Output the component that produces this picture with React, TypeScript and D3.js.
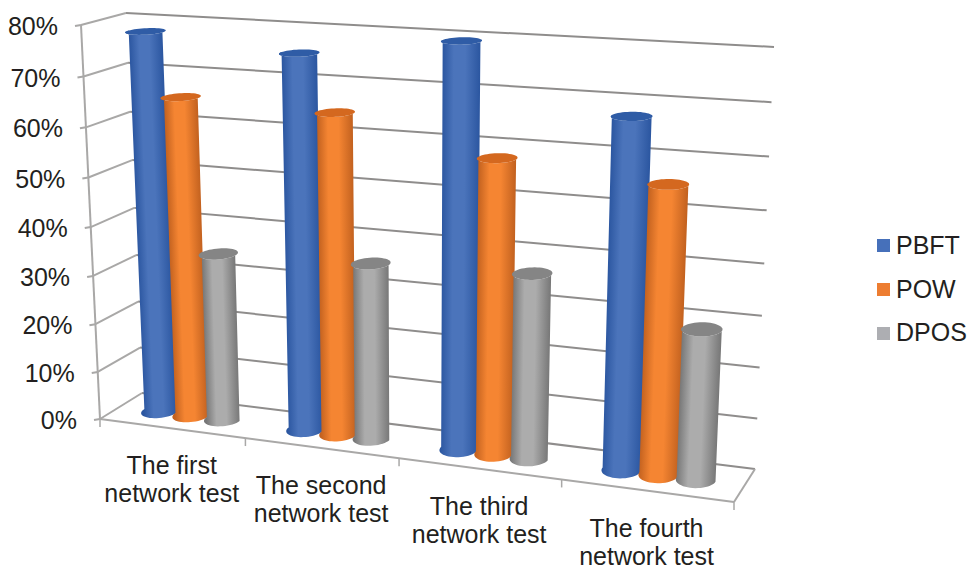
import React from "react";
import * as d3 from "d3";

// Chart values
const categories = [
  ["The first", "network test"],
  ["The second", "network test"],
  ["The third", "network test"],
  ["The fourth", "network test"],
];
const seriesNames = ["PBFT", "POW", "DPOS"];
const pbft = [78, 75.5, 79.5, 67.5];
const pow = [65.5, 64.5, 58, 55.5];
const dpos = [34.5, 35.5, 36.5, 29];
const valueTicks = [0, 10, 20, 30, 40, 50, 60, 70, 80];

const allSeries = [pbft, pow, dpos];

// Base fill, edge shade, centre highlight, cap fill for each series
const swatchColors = ["#4670ba", "#ed7d31", "#adaeb2"];
const edgeColors = ["#2b56a0", "#c2611f", "#777777"];
const midColors = ["#4b74bb", "#f58532", "#acacac"];
const capColors = ["#2f5ca6", "#d4681f", "#858585"];

const WIDTH = 969;
const HEIGHT = 570;
const INK = "#231f20";
const FONT = "'Liberation Sans', Arial, sans-serif";

// Corners of the 3D plot box on screen: [front|back][left|right][bottom|top]
const corners = {
  flb: [100, 419],
  flt: [81, 25],
  blb: [142, 393],
  blt: [126, 13],
  frb: [734, 502],
  frt: [754, 62],
  brb: [755, 469],
  brt: [774, 47],
};

const xUnit = d3.scaleLinear().domain([0, categories.length]).range([0, 1]);
const vUnit = d3.scaleLinear().domain([0, 80]).range([1, 0]);

// One-dimensional perspective foreshortening
const foreshorten = (u: number, k: number) => u / (u + k * (1 - u));

// Projects category position, value and depth (0 front, 1 back) to the screen
function project(cat: number, value: number, depth: number): [number, number] {
  const s = foreshorten(xUnit(cat), 1.12);
  const u = foreshorten(vUnit(value), 0.95);
  const mix = (a: number, b: number, t: number) => d3.interpolateNumber(a, b)(t);
  const out = [0, 1].map((i) => {
    const frontTop = mix(corners.flt[i], corners.frt[i], s);
    const frontBot = mix(corners.flb[i], corners.frb[i], s);
    const backTop = mix(corners.blt[i], corners.brt[i], s);
    const backBot = mix(corners.blb[i], corners.brb[i], s);
    return mix(mix(frontTop, frontBot, u), mix(backTop, backBot, u), depth);
  });
  return [out[0], out[1]];
}

const BAR_DEPTH = 0.5;
const BAR_PITCH = 0.22;
const RADIUS_X = 0.113;
const RADIUS_Z = 0.26;

const lineGen = d3.line<[number, number]>();

function cylinder(catIndex: number, seriesIndex: number, value: number) {
  const cx = catIndex + 0.5 + (seriesIndex - 1) * BAR_PITCH;
  const ring = (v: number, from: number, to: number) =>
    d3.range(0, 25).map((n) => {
      const a = from + ((to - from) * n) / 24;
      return project(cx + RADIUS_X * Math.cos(a), v, BAR_DEPTH - RADIUS_Z * Math.sin(a));
    });
  const body = [...ring(value, Math.PI, 0), ...ring(0, 0, Math.PI)];
  const cap = [...ring(value, 0, Math.PI), ...ring(value, Math.PI, 2 * Math.PI)];

  // Shading runs across the cylinder, perpendicular to its leaning axis
  const top = project(cx, value, BAR_DEPTH);
  const bottom = project(cx, 0, BAR_DEPTH);
  const axis = [bottom[0] - top[0], bottom[1] - top[1]];
  const len = Math.hypot(axis[0], axis[1]);
  const normal = [axis[1] / len, -axis[0] / len];
  const half = (project(cx + RADIUS_X, value, BAR_DEPTH)[0] - project(cx - RADIUS_X, value, BAR_DEPTH)[0]) / 2;
  const mid = [(top[0] + bottom[0]) / 2, (top[1] + bottom[1]) / 2];
  return {
    bodyPath: (lineGen(body) ?? "") + "Z",
    capPath: (lineGen(cap) ?? "") + "Z",
    grad: {
      x1: mid[0] - normal[0] * half,
      y1: mid[1] - normal[1] * half,
      x2: mid[0] + normal[0] * half,
      y2: mid[1] + normal[1] * half,
    },
  };
}

const GRID = "#8f8d8c";
const AXIS = "#a9a8a7";

export default function App() {
  const nCat = categories.length;
  const outline: [number, number][][] = [
    [project(0, 0, 0), project(0, 80, 0)],
    [project(0, 0, 0), project(nCat, 0, 0)],
    [project(nCat, 0, 0), project(nCat, 0, 1)],
  ];
  return (
    <svg
      width={WIDTH}
      height={HEIGHT}
      viewBox={`0 0 ${WIDTH} ${HEIGHT}`}
      style={{ position: "absolute", left: 0, top: 0, display: "block", background: "#fff" }}
    >
      {/* Back wall, side wall and value labels */}
      {valueTicks.map((v) => {
        const fl = project(0, v, 0);
        const bl = project(0, v, 1);
        const br = project(nCat, v, 1);
        return (
          <g key={v}>
            <line x1={bl[0]} y1={bl[1]} x2={br[0]} y2={br[1]} stroke={GRID} strokeWidth={2} />
            <line x1={fl[0]} y1={fl[1]} x2={bl[0]} y2={bl[1]} stroke={AXIS} strokeWidth={2} />
            <line x1={fl[0] - 6} y1={fl[1] + 1} x2={fl[0]} y2={fl[1]} stroke={AXIS} strokeWidth={2} />
            <text x={fl[0] - 23} y={fl[1] + 10} textAnchor="end" fontFamily={FONT} fontSize={25} fill={INK}>
              {v}%
            </text>
          </g>
        );
      })}
      {/* Vertical axis and floor outline */}
      {outline.map((seg, i) => (
        <line key={i} x1={seg[0][0]} y1={seg[0][1]} x2={seg[1][0]} y2={seg[1][1]} stroke={AXIS} strokeWidth={2} />
      ))}
      {/* Category ticks and labels */}
      {d3.range(0, nCat + 1).map((i) => {
        const p = project(i, 0, 0);
        return <line key={i} x1={p[0]} y1={p[1]} x2={p[0]} y2={p[1] + 8} stroke={AXIS} strokeWidth={1.5} />;
      })}
      {categories.map((lines, i) => {
        const p = project(i + 0.5, 0, 0);
        return (
          <text key={i} textAnchor="middle" fontFamily={FONT} fontSize={25} fill={INK}>
            {lines.map((line, l) => (
              <tspan key={l} x={p[0]} y={p[1] + 46 + l * 28}>
                {line}
              </tspan>
            ))}
          </text>
        );
      })}
      {/* Cylinders */}
      {categories.map((_, c) =>
        allSeries.map((values, s) => {
          const shape = cylinder(c, s, values[c]);
          const id = `cyl-${c}-${s}`;
          return (
            <g key={id}>
              <defs>
                <linearGradient id={id} gradientUnits="userSpaceOnUse" {...shape.grad}>
                  <stop offset="0" stopColor={edgeColors[s]} />
                  <stop offset="0.3" stopColor={midColors[s]} />
                  <stop offset="0.6" stopColor={midColors[s]} />
                  <stop offset="1" stopColor={edgeColors[s]} />
                </linearGradient>
              </defs>
              <path d={shape.bodyPath} fill={`url(#${id})`} />
              <path d={shape.capPath} fill={capColors[s]} />
            </g>
          );
        }),
      )}
      {/* Legend */}
      {seriesNames.map((name, i) => (
        <g key={name}>
          <rect x={877} y={239 + i * 44} width={13} height={13} fill={swatchColors[i]} />
          <text x={896} y={254 + i * 43.7} fontFamily={FONT} fontSize={25} fill={INK}>
            {name}
          </text>
        </g>
      ))}
    </svg>
  );
}
